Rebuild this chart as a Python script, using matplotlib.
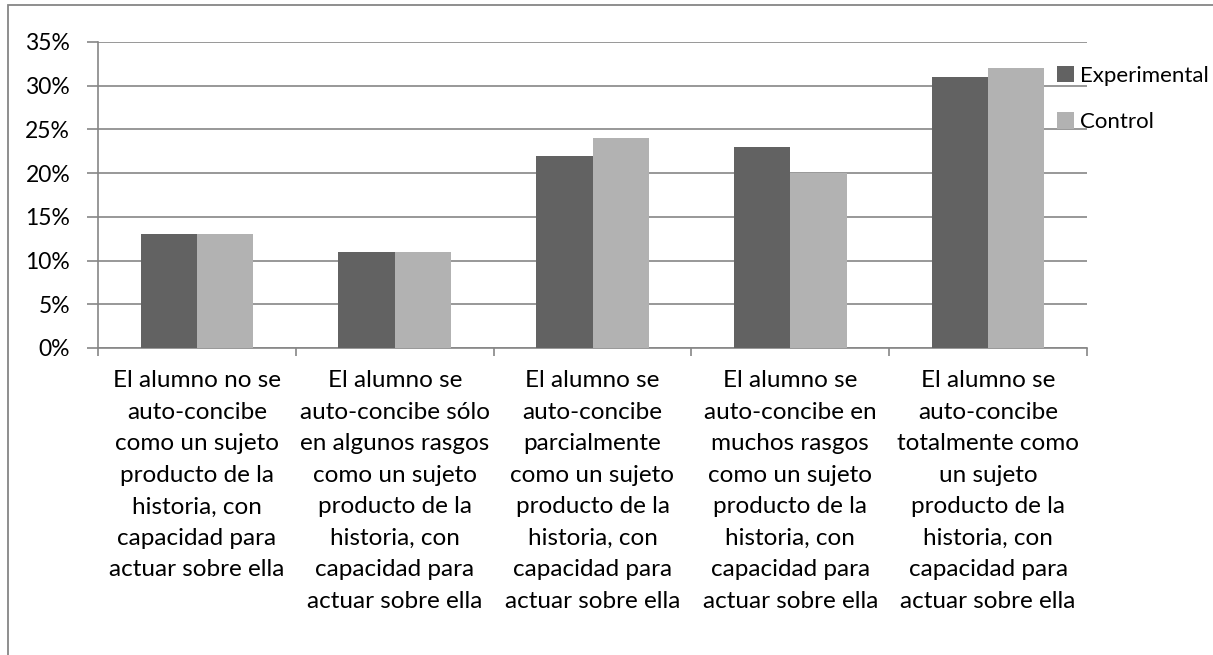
import matplotlib.pyplot as plt
import numpy as np
from matplotlib.patches import Rectangle

plt.rcParams['font.family'] = ['Lato', 'DejaVu Sans']

categories = [
    "El alumno no se\nauto-concibe\ncomo un sujeto\nproducto de la\nhistoria, con\ncapacidad para\nactuar sobre ella",
    "El alumno se\nauto-concibe sólo\nen algunos rasgos\ncomo un sujeto\nproducto de la\nhistoria, con\ncapacidad para\nactuar sobre ella",
    "El alumno se\nauto-concibe\nparcialmente\ncomo un sujeto\nproducto de la\nhistoria, con\ncapacidad para\nactuar sobre ella",
    "El alumno se\nauto-concibe en\nmuchos rasgos\ncomo un sujeto\nproducto de la\nhistoria, con\ncapacidad para\nactuar sobre ella",
    "El alumno se\nauto-concibe\ntotalmente como\nun sujeto\nproducto de la\nhistoria, con\ncapacidad para\nactuar sobre ella",
]
experimental = [13, 11, 22, 23, 31]
control = [13, 11, 24, 20, 32]
yticks = [0, 5, 10, 15, 20, 25, 30, 35]

grid_c = '#868686'

fig = plt.figure(figsize=(12.13, 6.55), dpi=100)
ax = fig.add_axes([98 / 1213, 1 - 348 / 655, (1087 - 98) / 1213, (348 - 42) / 655])

x = np.arange(len(categories))
w = 0.285
ax.bar(x - w / 2, experimental, w, color='#626262', label='Experimental', zorder=3)
ax.bar(x + w / 2, control, w, color='#b2b2b2', label='Control', zorder=3)

ax.set_xlim(-0.5, len(categories) - 0.5)
ax.set_ylim(0, 35)
ax.set_yticks(yticks)
ax.set_yticklabels([f'{v}%' for v in yticks], fontsize=16.5)
ax.yaxis.grid(True, color=grid_c, linewidth=1.2, zorder=0)

# category labels centred, ticks at boundaries
ax.set_xticks(np.arange(len(categories) + 1) - 0.5)
ax.set_xticklabels([])
ax.set_xticks(x, minor=True)
ax.set_xticklabels(categories, minor=True, fontsize=17.5, linespacing=1.62)
ax.tick_params(axis='x', which='minor', length=0, pad=16)
ax.tick_params(axis='x', which='major', length=6, color=grid_c, width=1.2)
ax.tick_params(axis='y', length=8, color=grid_c, width=1.2, pad=12)

for s in ['top', 'right']:
    ax.spines[s].set_visible(False)
for s in ['left', 'bottom']:
    ax.spines[s].set_color(grid_c)
    ax.spines[s].set_linewidth(1.2)

ax.legend(loc='upper left', bbox_to_anchor=(1048 / 1213, 1 - 57 / 655),
          bbox_transform=fig.transFigure, frameon=False, fontsize=16,
          handlelength=0.75, handleheight=0.75, handletextpad=0.3,
          labelspacing=1.18, borderaxespad=0)

# outer chart border
fig.patches.append(Rectangle((8 / 1213, -0.01), 1.02, 1 - 5 / 655 + 0.01,
                             transform=fig.transFigure, fill=False,
                             edgecolor='#868686', linewidth=1.3))

fig.savefig('out.png', dpi=100)
